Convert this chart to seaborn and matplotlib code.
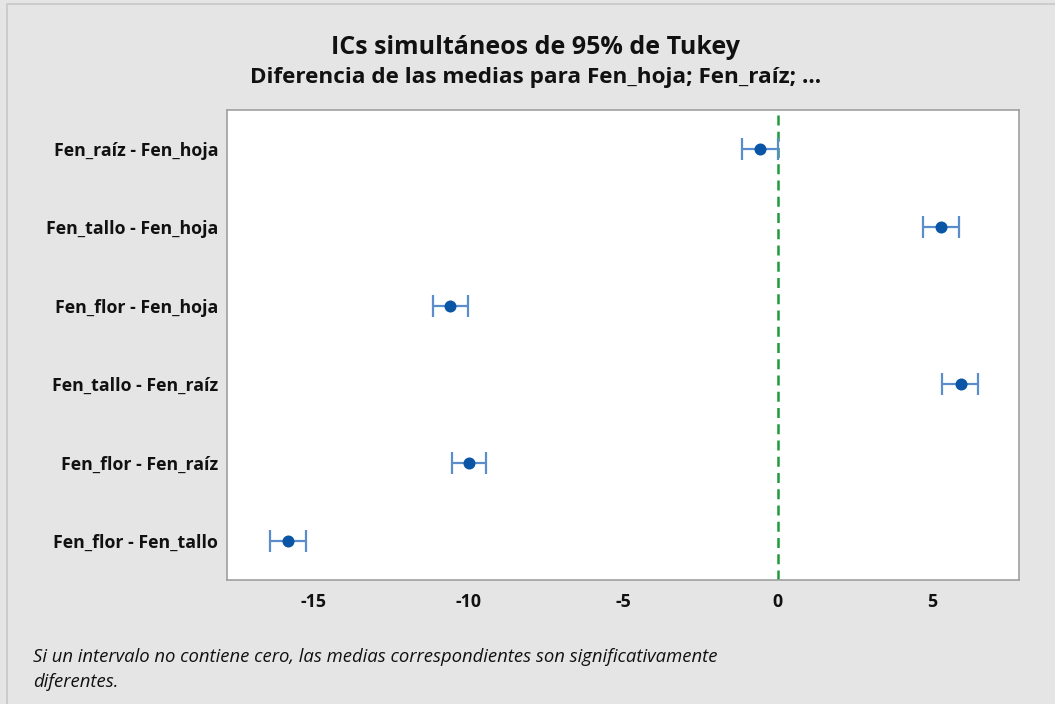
import matplotlib
matplotlib.use("Agg")
import matplotlib.pyplot as plt
import seaborn as sns
import pandas as pd
from matplotlib.patches import Rectangle

# Data: Tukey simultaneous 95% CIs
comparisons = ['Fen_raíz - Fen_hoja', 'Fen_tallo - Fen_hoja', 'Fen_flor - Fen_hoja',
               'Fen_tallo - Fen_raíz', 'Fen_flor - Fen_raíz', 'Fen_flor - Fen_tallo']
diff_means = [-0.56, 5.29, -10.58, 5.91, -9.97, -15.81]
lower = [-1.15, 4.70, -11.14, 5.32, -10.53, -16.40]
upper = [0.02, 5.87, -10.01, 6.49, -9.41, -15.24]
x_ticks = [-15, -10, -5, 0, 5]

df = pd.DataFrame({'comp': comparisons, 'diff': diff_means, 'lo': lower, 'hi': upper})
df['pos'] = range(len(df))

sns.set_style('white')
plt.rcParams['font.family'] = ['Open Sans', 'DejaVu Sans']

bg = '#e5e5e5'
fig = plt.figure(figsize=(10.55, 7.04), dpi=100, facecolor=bg)
ax = fig.add_axes([0.2152, 0.1761, 0.9659 - 0.2152, 0.8438 - 0.1761])

# frame around the figure (left/top edges visible)
fig.patches.append(Rectangle((7 / 1055, -0.1), 1.2, (700 / 704) + 0.1,
                             transform=fig.transFigure, fill=False,
                             edgecolor='#c8c8c8', linewidth=1.2, zorder=-1))

# zero reference line
ax.axvline(0, color='#1f9a3a', linestyle=(0, (4, 2.5)), linewidth=1.8, zorder=1)

# intervals
ax.errorbar(df['diff'], df['pos'],
            xerr=[df['diff'] - df['lo'], df['hi'] - df['diff']],
            fmt='none', ecolor='#5b8ccc', elinewidth=1.6, capsize=8, capthick=1.6, zorder=2)

sns.scatterplot(data=df, x='diff', y='pos', ax=ax, s=75, color='#0a55a5',
                edgecolor='#0a55a5', linewidth=0, zorder=3, legend=False)

ax.set_xlim(-17.79, 7.80)
ax.set_ylim(5.5, -0.5)
ax.set_xticks(x_ticks)
ax.set_xticklabels([str(t) for t in x_ticks])
ax.set_yticks(df['pos'])
ax.set_yticklabels(comparisons)
ax.set_xlabel('')
ax.set_ylabel('')
ax.set_facecolor('white')
for s in ax.spines.values():
    s.set_color('#a0a0a0')
    s.set_linewidth(1.2)
ax.tick_params(axis='both', which='both', length=5, width=1, color='#a0a0a0',
               labelsize=12.8, direction='out')
ax.tick_params(axis='y', pad=1.5)
ax.tick_params(axis='x', pad=4)
for lab in ax.get_xticklabels() + ax.get_yticklabels():
    lab.set_fontweight('bold')
    lab.set_color('#111111')

fig.text(0.508, 1 - 47 / 704, 'ICs simultáneos de 95% de Tukey', ha='center', va='center',
         fontsize=18, fontweight='bold', color='#111111')
fig.text(0.508, 1 - 78 / 704, 'Diferencia de las medias para Fen_hoja; Fen_raíz; ...',
         ha='center', va='center', fontsize=16.2, fontweight='bold', color='#111111')

fig.text(33 / 1055, 1 - 657 / 704,
         'Si un intervalo no contiene cero, las medias correspondientes son significativamente',
         ha='left', va='center', fontsize=13.3, style='italic', color='#111111')
fig.text(33 / 1055, 1 - 682 / 704, 'diferentes.',
         ha='left', va='center', fontsize=13.3, style='italic', color='#111111')

fig.savefig('out.png', dpi=100, facecolor=bg)
